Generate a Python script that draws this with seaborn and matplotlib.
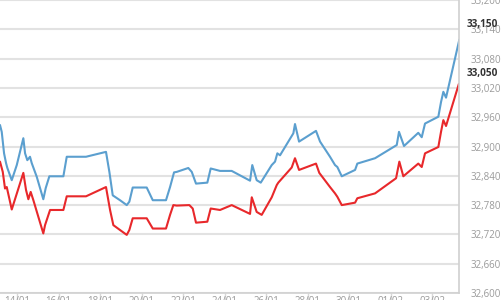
import matplotlib
matplotlib.use("Agg")
import matplotlib.pyplot as plt
import matplotlib.transforms as mtransforms
import seaborn as sns
import pandas as pd

# ---- data (hours after 14/01 00:00, index points) ----
blue_hours = [-19.7, -17.7, -15.0, -12.7, -11.2, -6.1, -0.3, 7.3, 9.3, 11.9, 15.0, 17.0,
              22.8, 30.4, 33.2, 37.4, 53.6, 57.5, 79.8, 102.9, 106.8, 110.7, 119.1,
              126.9, 129.9, 133.8, 150.0, 157.0, 172.3, 177.0, 181.6, 184.7, 198.1,
              202.1, 207.0, 220.1, 224.0, 234.8, 248.3, 269.5, 272.1, 277.2, 281.9,
              294.6, 298.4, 301.1, 304.2, 319.6, 321.5, 326.2, 345.8, 350.5, 362.0,
              367.8, 370.5, 375.6, 391.0, 393.6, 414.1, 439.2, 441.8, 447.6, 464.1,
              468.1, 471.9, 487.3, 490.4, 493.1, 496.2, 511.6]
blue_values = [32944, 32930, 32886, 32866, 32856, 32831, 32862, 32917, 32886, 32872, 32879, 32866,
               32838, 32792, 32815, 32839, 32839, 32879, 32879, 32889, 32848, 32800, 32790,
               32780, 32787, 32816, 32816, 32790, 32790, 32817, 32847, 32848, 32856,
               32848, 32824, 32826, 32855, 32850, 32850, 32830, 32862, 32831, 32826,
               32862, 32869, 32886, 32882, 32927, 32946, 32910, 32932, 32910, 32879,
               32862, 32858, 32839, 32852, 32865, 32876, 32903, 32930, 32901, 32928,
               32919, 32947, 32961, 32991, 33012, 33000, 33119]

red_hours = [-19.7, -16.5, -13.9, -11.9, -6.1, 7.3, 10.4, 13.1, 15.8, 18.9, 30.4, 32.4,
             38.2, 53.6, 57.5, 79.8, 102.9, 107.6, 111.4, 119.1, 126.9, 129.9, 133.8,
             150.0, 157.0, 172.3, 177.0, 180.8, 184.7, 199.3, 203.2, 207.0, 220.1,
             224.0, 234.8, 248.3, 269.5, 271.5, 277.2, 283.0, 294.6, 300.4, 302.2,
             317.7, 321.5, 326.2, 345.8, 349.6, 362.0, 367.8, 370.5, 375.6, 391.0,
             393.6, 414.1, 438.4, 442.2, 446.8, 464.1, 468.1, 471.9, 487.3, 490.4,
             493.1, 496.2, 511.0]
red_values = [32869, 32848, 32814, 32817, 32771, 32846, 32811, 32792, 32807, 32790, 32722, 32739,
              32770, 32770, 32798, 32798, 32817, 32770, 32739, 32729, 32719, 32729, 32753,
              32753, 32732, 32732, 32760, 32780, 32779, 32780, 32773, 32744, 32746,
              32773, 32770, 32780, 32762, 32796, 32766, 32760, 32796, 32821, 32826,
              32857, 32876, 32852, 32865, 32846, 32817, 32804, 32797, 32780, 32785,
              32794, 32804, 32835, 32869, 32839, 32865, 32858, 32886, 32899, 32930,
              32954, 32942, 33028]

tick_labels = ["14/01", "16/01", "18/01", "20/01", "22/01", "24/01",
               "26/01", "28/01", "30/01", "01/02", "03/02"]
y_ticks = [32600, 32660, 32720, 32780, 32840, 32900, 32960, 33020, 33080, 33140, 33200]
last_labels = [33150, 33050]

base = pd.Timestamp("2024-01-14")
blue_df = pd.DataFrame({"time": base + pd.to_timedelta(blue_hours, unit="h"), "value": blue_values})
red_df = pd.DataFrame({"time": base + pd.to_timedelta(red_hours, unit="h"), "value": red_values})

sns.set_theme(style="white")
plt.rcParams["font.family"] = ["Open Sans", "DejaVu Sans"]

fig = plt.figure(figsize=(5.01, 3.0), dpi=100)
ax = fig.add_axes([0.0, 1 - 293 / 300, 459 / 501, 293 / 300])

sns.lineplot(data=blue_df, x="time", y="value", ax=ax, color="#5b9fcf", linewidth=1.5)
sns.lineplot(data=red_df, x="time", y="value", ax=ax, color="#e8282b", linewidth=1.5)

ax.set_ylim(32600, 33200)
ax.set_xlim(base + pd.Timedelta(hours=-19.7), base + pd.Timedelta(hours=511.2))
ax.set_yticks(y_ticks)
ax.set_yticklabels([f"{v:,}" for v in y_ticks])
xt = [base + pd.Timedelta(days=2 * i) for i in range(len(tick_labels))]
ax.set_xticks(xt)
ax.set_xticklabels(tick_labels)

ax.yaxis.tick_right()
ax.tick_params(axis="y", which="both", length=0, pad=8, labelsize=7, labelcolor="#9a9a9a")
ax.tick_params(axis="x", which="both", length=7, width=1, color="#d8d8d8", pad=-5,
               labelsize=7, labelcolor="#9a9a9a", bottom=True)
ax.grid(axis="y", color="#e2e2e2", linewidth=1.5)
ax.grid(axis="x", visible=False)
ax.set_xlabel("")
ax.set_ylabel("")
for s in ["left", "top"]:
    ax.spines[s].set_visible(False)
ax.spines["right"].set_color("#d0d0d0")
ax.spines["bottom"].set_color("#d0d0d0")
ax.spines["right"].set_linewidth(1.2)
ax.spines["bottom"].set_linewidth(1.2)

trans = mtransforms.blended_transform_factory(ax.transAxes, ax.transData)
for v in last_labels:
    ax.text(1.0 + 8 / 459, v, f"{v:,}", transform=trans, ha="left", va="center",
            fontsize=7.2, fontweight="bold", color="#333333")

fig.savefig("out.png", dpi=100)
